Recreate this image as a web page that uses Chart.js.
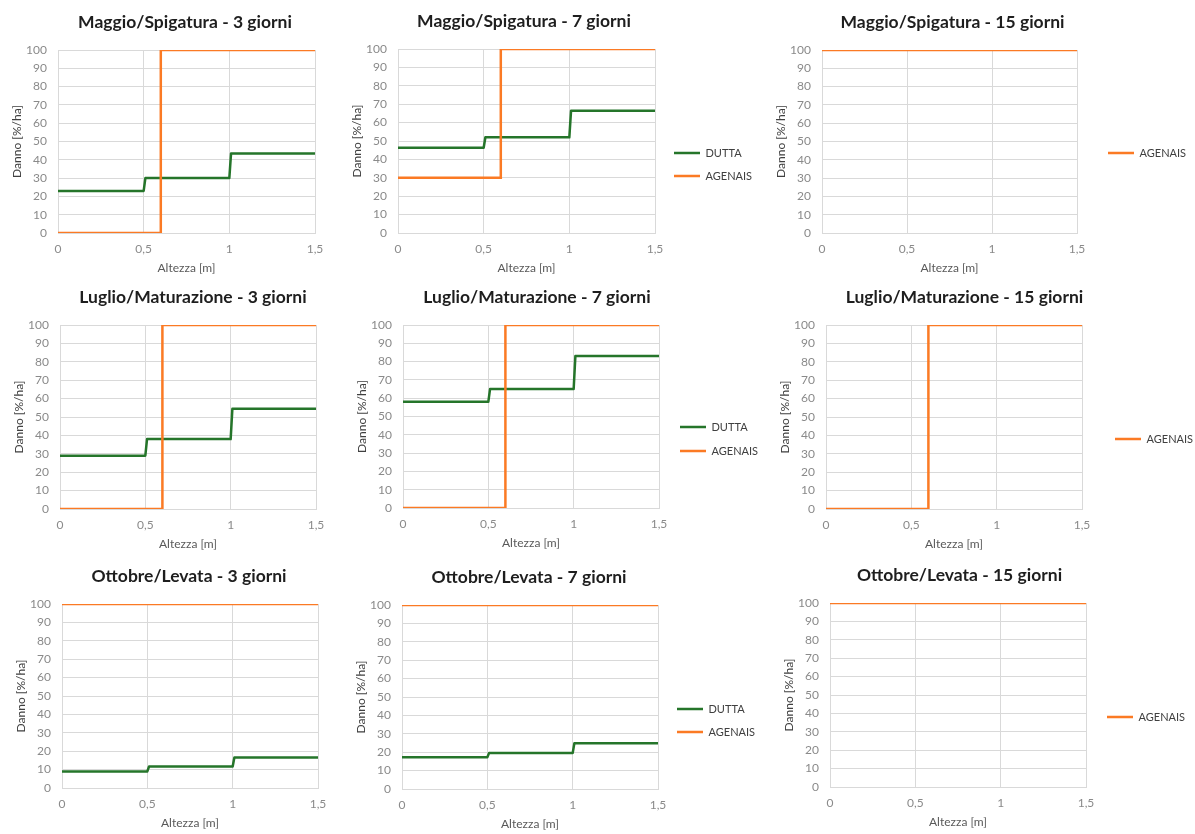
<!DOCTYPE html>
<html lang="it">
<head>
<meta charset="utf-8">
<title>Danno in funzione dell'altezza</title>
<script src="https://cdn.jsdelivr.net/npm/chart.js@4.4.1/dist/chart.umd.min.js"></script>
<style>
  html, body { margin: 0; padding: 0; background: #ffffff; overflow: hidden; }
  #board { position: relative; width: 1195px; height: 834px; }
  #board canvas { position: absolute; }
</style>
</head>
<body>
<div id="board"></div>
<script>
// Altezza [m] breakpoints of the two damage curves
const altezzaDutta   = [0, 0.5, 0.51, 1, 1.01, 1.5];
const altezzaAgenais = [0, 0.6, 0.6, 1.5];

// Danno [%/ha] - DUTTA model
const duttaMaggio3  = [23, 23, 30, 30, 43.5, 43.5];
const duttaMaggio7  = [46.3, 46.3, 52, 52, 66.5, 66.5];
const duttaLuglio3  = [29, 29, 38, 38, 54.5, 54.5];
const duttaLuglio7  = [58, 58, 65, 65, 83, 83];
const duttaOttobre3 = [9, 9, 11.7, 11.7, 16.6, 16.6];
const duttaOttobre7 = [17.3, 17.3, 19.5, 19.5, 24.9, 24.9];

// Danno [%/ha] - AGENAIS model
const agenaisMaggio3   = [0, 0, 100, 100];
const agenaisMaggio7   = [30, 30, 100, 100];
const agenaisMaggio15  = [100, 100, 100, 100];
const agenaisLuglio3   = [0, 0, 100, 100];
const agenaisLuglio7   = [0, 0, 100, 100];
const agenaisLuglio15  = [0, 0, 100, 100];
const agenaisOttobre3  = [100, 100, 100, 100];
const agenaisOttobre7  = [100, 100, 100, 100];
const agenaisOttobre15 = [100, 100, 100, 100];

const seriesNames = ['DUTTA', 'AGENAIS'];
const xTickValues = [0, 0.5, 1, 1.5];

// page layout of the nine panels: plot box [left, top, right, bottom],
// horizontal centre of the title, anchor of the legend (first row)
const panels = [
  { title: 'Maggio/Spigatura - 3 giorni',   dutta: duttaMaggio3,  agenais: agenaisMaggio3,   box: [58, 50, 315, 233],   titleCx: 185 },
  { title: 'Maggio/Spigatura - 7 giorni',   dutta: duttaMaggio7,  agenais: agenaisMaggio7,   box: [398, 49, 655, 233],  titleCx: 524,   legend: { x: 674, y: 153, gap: 23 } },
  { title: 'Maggio/Spigatura - 15 giorni',  dutta: null,          agenais: agenaisMaggio15,  box: [822, 50, 1077, 233], titleCx: 952.5, legend: { x: 1108, y: 153, gap: 23 } },
  { title: 'Luglio/Maturazione - 3 giorni', dutta: duttaLuglio3,  agenais: agenaisLuglio3,   box: [60, 325, 316, 509],  titleCx: 193 },
  { title: 'Luglio/Maturazione - 7 giorni', dutta: duttaLuglio7,  agenais: agenaisLuglio7,   box: [403, 325, 659, 508], titleCx: 537,   legend: { x: 680, y: 427, gap: 24 } },
  { title: 'Luglio/Maturazione - 15 giorni',dutta: null,          agenais: agenaisLuglio15,  box: [826, 325, 1082, 509],titleCx: 964.5, legend: { x: 1115, y: 439, gap: 24 } },
  { title: 'Ottobre/Levata - 3 giorni',     dutta: duttaOttobre3, agenais: agenaisOttobre3,  box: [62, 604, 318, 788],  titleCx: 189 },
  { title: 'Ottobre/Levata - 7 giorni',     dutta: duttaOttobre7, agenais: agenaisOttobre7,  box: [402, 605, 658, 789], titleCx: 529,   legend: { x: 677, y: 709, gap: 23 } },
  { title: 'Ottobre/Levata - 15 giorni',    dutta: null,          agenais: agenaisOttobre15, box: [830, 603, 1086, 787],titleCx: 959.5, legend: { x: 1107, y: 717, gap: 23 } }
];

const GREEN = '#25752a';
const ORANGE = '#fb7a24';
const GRID = '#d9d9d9';

const Y_AXIS_W = 50;     // y axis box: title + tick labels
const X_AXIS_H = 46;     // x axis box: tick labels + title
const TITLE_PAD_TOP = 4;
const TITLE_PAD_BOTTOM = 17;
const TITLE_SIZE = 17.5;
const TITLE_H = TITLE_PAD_TOP + TITLE_SIZE * 1.2 + TITLE_PAD_BOTTOM;
const LEGEND_FONT = 11;
const LEGEND_RIGHT_ROOM = 130;

// keeps the right-hand legend box at a set width and places its rows
const legendFrame = {
  id: 'legendFrame',
  beforeInit(chart) {
    const legend = chart.legend;
    if (!legend) return;
    const fit = legend.fit;
    legend.fit = function () {
      fit.call(this);
      this.width = chart.options.plugins.legendFrame.width;
    };
  },
  afterLayout(chart, _args, opts) {
    const legend = chart.legend;
    if (!legend || opts.dx == null) return;
    const pad = chart.options.plugins.legend.labels.padding;
    const area = chart.chartArea;
    legend.left = area.right + opts.dx - pad;
    legend.right = legend.left + 200;
    legend.top = area.top + opts.dy - pad - LEGEND_FONT / 2;
    legend.bottom = legend.top + 200;
  }
};

function points(xs, ys) {
  return xs.map((x, i) => ({ x: x, y: ys[i] }));
}

function build(p) {
  const [L, T, R, B] = p.box;
  const legendW = 2 * p.titleCx - L - R + Y_AXIS_W;
  const extraRight = p.legend ? LEGEND_RIGHT_ROOM : 0;
  const canvas = document.createElement('canvas');
  const w = Math.round(Y_AXIS_W + (R - L) + legendW + extraRight);
  const h = Math.round(TITLE_H + (B - T) + X_AXIS_H);
  canvas.width = w;
  canvas.height = h;
  canvas.style.width = w + 'px';
  canvas.style.height = h + 'px';
  canvas.style.left = (L - Y_AXIS_W) + 'px';
  canvas.style.top = Math.round(T - TITLE_H) + 'px';
  document.getElementById('board').appendChild(canvas);

  const datasets = [];
  if (p.dutta) {
    datasets.push({
      label: seriesNames[0],
      data: points(altezzaDutta, p.dutta),
      borderColor: GREEN, backgroundColor: GREEN,
      borderWidth: 2.5, pointRadius: 0, tension: 0, order: 1,
      borderJoinStyle: 'round'
    });
  }
  datasets.push({
    label: seriesNames[1],
    data: points(altezzaAgenais, p.agenais),
    borderColor: ORANGE, backgroundColor: ORANGE,
    borderWidth: 2.5, pointRadius: 0, tension: 0, order: 0,
    borderJoinStyle: 'miter'
  });

  const legendOpts = p.legend
    ? { dx: p.legend.x - R, dy: p.legend.y - T, width: legendW }
    : { width: legendW };
  const rowPad = p.legend ? p.legend.gap - LEGEND_FONT : 12;

  new Chart(canvas, {
    type: 'line',
    data: { datasets },
    options: {
      responsive: false,
      animation: false,
      events: [],
      layout: { padding: { left: 0, top: 0, bottom: 0, right: extraRight } },
      plugins: {
        title: {
          display: true,
          text: p.title,
          color: '#1e1e1e',
          font: { size: TITLE_SIZE, weight: 'bold', lineHeight: 1.2 },
          padding: { top: TITLE_PAD_TOP, bottom: TITLE_PAD_BOTTOM }
        },
        legend: {
          display: true,
          position: 'right',
          align: 'start',
          labels: {
            usePointStyle: true,
            pointStyle: 'line',
            pointStyleWidth: 26,
            padding: rowPad,
            color: '#404040',
            font: { size: LEGEND_FONT },
            filter: () => !!p.legend,
            sort: (a, b) => a.datasetIndex - b.datasetIndex
          }
        },
        tooltip: { enabled: false },
        legendFrame: legendOpts
      },
      scales: {
        x: {
          type: 'linear',
          min: 0, max: 1.5,
          afterBuildTicks: (scale) => { scale.ticks = xTickValues.map(v => ({ value: v })); },
          afterFit: (scale) => { scale.height = X_AXIS_H; },
          grid: { color: GRID, lineWidth: 1, drawTicks: false },
          border: { display: true, color: GRID, width: 1 },
          ticks: {
            padding: 9,
            color: '#8a8a8a',
            font: { size: 12 },
            maxRotation: 0,
            callback: (v) => String(v).replace('.', ',')
          },
          title: {
            display: true, text: 'Altezza [m]', color: '#595959',
            font: { size: 12 }, padding: { top: 0, bottom: 4 }
          }
        },
        y: {
          min: 0, max: 100,
          afterFit: (scale) => { scale.width = Y_AXIS_W; },
          grid: { color: GRID, lineWidth: 1, drawTicks: false },
          border: { display: false },
          ticks: { stepSize: 10, padding: 11, color: '#8a8a8a', font: { size: 12 } },
          title: {
            display: true, text: 'Danno [%/ha]', color: '#404040',
            font: { size: 12 }, padding: { top: 2, bottom: 0 }
          }
        }
      }
    },
    plugins: [legendFrame]
  });
}

Chart.defaults.font.family = 'Lato, "Open Sans", "DejaVu Sans", sans-serif';

Promise.all([
  document.fonts.load('12px Lato'),
  document.fonts.load('bold 17.5px Lato')
]).catch(() => {}).then(() => panels.forEach(build));
</script>
</body>
</html>
